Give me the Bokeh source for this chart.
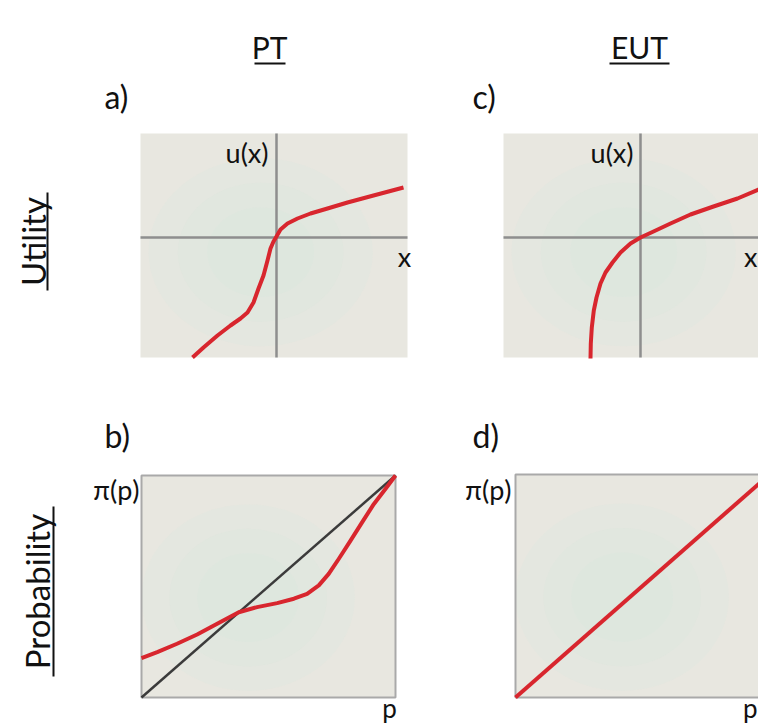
import math

from bokeh.core.properties import value
from bokeh.embed import file_html
from bokeh.models import Range1d
from bokeh.plotting import figure
from bokeh.resources import INLINE

W, H = 758, 725

# ---- curve data -------------------------------------------------------------
# a) prospect theory value function: outcome x vs. utility u(x)
pt_util_x = [-0.84, -0.73, -0.59, -0.46, -0.36, -0.29, -0.23, -0.18, -0.13, -0.09,
             -0.06, -0.03, 0.00, 0.04, 0.11, 0.21, 0.34, 0.51, 0.71, 0.97, 1.27]
pt_util_u = [-1.20, -1.10, -0.98, -0.88, -0.81, -0.75, -0.65, -0.51, -0.38, -0.23,
             -0.11, -0.04, 0.01, 0.08, 0.14, 0.19, 0.24, 0.29, 0.35, 0.42, 0.50]

# c) expected utility theory: concave utility function
eut_util_x = [-0.50, -0.497, -0.487, -0.467, -0.44, -0.40, -0.35, -0.28, -0.20,
              -0.10, 0.00, 0.13, 0.30, 0.50, 0.73, 0.97, 1.18, 1.30]
eut_util_u = [-1.21, -1.06, -0.90, -0.73, -0.60, -0.46, -0.35, -0.25, -0.15,
              -0.06, 0.00, 0.06, 0.14, 0.23, 0.31, 0.39, 0.48, 0.52]

# b) prospect theory probability weighting pi(p)
pt_prob_p = [0.000, 0.062, 0.140, 0.219, 0.298, 0.383, 0.455, 0.534, 0.600,
             0.652, 0.698, 0.737, 0.777, 0.823, 0.869, 0.915, 0.961, 1.000]
pt_prob_w = [0.177, 0.204, 0.242, 0.284, 0.332, 0.384, 0.407, 0.425, 0.445,
             0.467, 0.505, 0.557, 0.625, 0.707, 0.790, 0.872, 0.940, 1.000]

# identity line pi(p) = p (reference in b, the whole curve in d)
diag_p = [0.0, 1.0]
diag_w = [0.0, 1.0]
eut_prob_p = [0.0, 1.0]
eut_prob_w = [0.0, 1.0]

# ---- page layout: pixel boxes of the four panels and their data extents ---------
panels = {
    #        left  top  width height   x0     x1     y0     y1
    "a": (140, 133, 267, 224, -1.36, 1.31, -1.20, 1.04),
    "c": (503, 133, 267, 224, -1.37, 1.30, -1.20, 1.04),
    "b": (141, 475, 254, 222, 0.0, 1.0, 0.0, 1.0),
    "d": (515, 474, 254, 223, 0.0, 1.0, 0.0, 1.0),
}

BG = "#e8e7e0"
GLOW = "#d6e9dd"
AXIS = "#8e8e8e"
RED = "#d8262e"
INK = "#111111"
FONT = value("Lato")

p = figure(width=W, height=H, x_range=Range1d(0, W), y_range=Range1d(H, 0),
           output_backend="svg", toolbar_location=None, min_border=0)
p.axis.visible = False
p.grid.visible = False
p.outline_line_color = None
p.background_fill_color = "white"
p.border_fill_color = "white"

# one pair of extra ranges per panel, placed so that its data box lands on its pixel box
for name, (left, top, w, h, x0, x1, y0, y1) in panels.items():
    kx = (x1 - x0) / w
    sx = x0 - left * kx
    p.extra_x_ranges[name] = Range1d(sx, sx + W * kx)
    ky = (y1 - y0) / h
    bottom = H - (top + h)
    sy = y0 - bottom * ky
    p.extra_y_ranges[name] = Range1d(sy, sy + H * ky)


def rn(name):
    return dict(x_range_name=name, y_range_name=name)


# panel backgrounds with a soft greenish glow in the middle
for name, (left, top, w, h, x0, x1, y0, y1) in panels.items():
    bordered = name in ("b", "d")
    p.quad(left=[x0], right=[x1], bottom=[y0], top=[y1], fill_color=BG,
           line_color=None, **rn(name))
    if bordered:
        cx, cy = x0 + (x1 - x0) * 0.42, y0 + (y1 - y0) * 0.45
    else:
        cx, cy = x0 + (x1 - x0) * 0.45, y0 + (y1 - y0) * 0.47
    for f, a in ((0.84, 0.22), (0.62, 0.25), (0.40, 0.3)):
        p.ellipse(x=[cx], y=[cy], width=[(x1 - x0) * f], height=[(y1 - y0) * f],
                  fill_color=GLOW, fill_alpha=a, line_color=None, **rn(name))
    if bordered:
        p.quad(left=[x0], right=[x1], bottom=[y0], top=[y1], fill_color=None,
               line_color="#a9a9a9", line_width=2, **rn(name))

# coordinate axes in the utility panels
for name in ("a", "c"):
    _, _, _, _, x0, x1, y0, y1 = panels[name]
    p.segment(x0=[x0, 0], y0=[0, y0], x1=[x1, 0], y1=[0, y1],
              line_color=AXIS, line_width=2.5, **rn(name))

# curves
p.line(pt_util_x, pt_util_u, line_color=RED, line_width=4, line_join="round", **rn("a"))
p.line(eut_util_x, eut_util_u, line_color=RED, line_width=4, line_join="round", **rn("c"))
p.line(diag_p, diag_w, line_color="#3b3b3b", line_width=2.5, **rn("b"))
p.line(pt_prob_p, pt_prob_w, line_color=RED, line_width=4, line_join="round", **rn("b"))
p.line(eut_prob_p, eut_prob_w, line_color=RED, line_width=4, **rn("d"))

# column headings (underlined)
p.text(x=[269, 639], y=[46, 46], text=["PT", "EUT"], text_font=FONT,
       text_font_size="30px", text_align="center", text_baseline="middle",
       text_color=INK)
p.segment(x0=[254, 609], y0=[63, 63], x1=[285, 669], y1=[63, 63],
          line_color=INK, line_width=2)

# row headings (rotated, underlined)
p.text(x=[32, 36], y=[241, 591], text=["Utility", "Probability"], text_font=FONT,
       text_font_size="33px", text_align="center", text_baseline="middle",
       angle=math.pi / 2, text_color=INK)
p.segment(x0=[47, 53], y0=[192, 506], x1=[47, 53], y1=[290, 676],
          line_color=INK, line_width=2)

# panel letters
p.text(x=[104, 472, 104, 472], y=[96, 96, 435, 435], text=["a)", "c)", "b)", "d)"],
       text_font=FONT, text_font_size="32px", text_align="left",
       text_baseline="middle", text_color=INK)

# axis labels
p.text(x=[268, 633], y=[152, 152], text=["u(x)", "u(x)"], text_font=FONT,
       text_font_size="27px", text_align="right", text_baseline="middle",
       text_color=INK)
p.text(x=[404], y=[256], text=["x"], text_font=FONT,
       text_font_size="27px", text_align="center", text_baseline="middle",
       text_color=INK)
p.text(x=[757], y=[256], text=["x"], text_font=FONT,
       text_font_size="27px", text_align="right", text_baseline="middle",
       text_color=INK)
p.text(x=[139, 511], y=[489, 489], text=["π(p)", "π(p)"], text_font=FONT,
       text_font_size="27px", text_align="right", text_baseline="middle",
       text_color=INK)
p.text(x=[389], y=[723], text=["p"], text_font=FONT,
       text_font_size="26px", text_align="center", text_baseline="bottom",
       text_color=INK)
p.text(x=[757], y=[723], text=["p"], text_font=FONT,
       text_font_size="26px", text_align="right", text_baseline="bottom",
       text_color=INK)

open("out.html", "w").write(file_html(p, INLINE))
